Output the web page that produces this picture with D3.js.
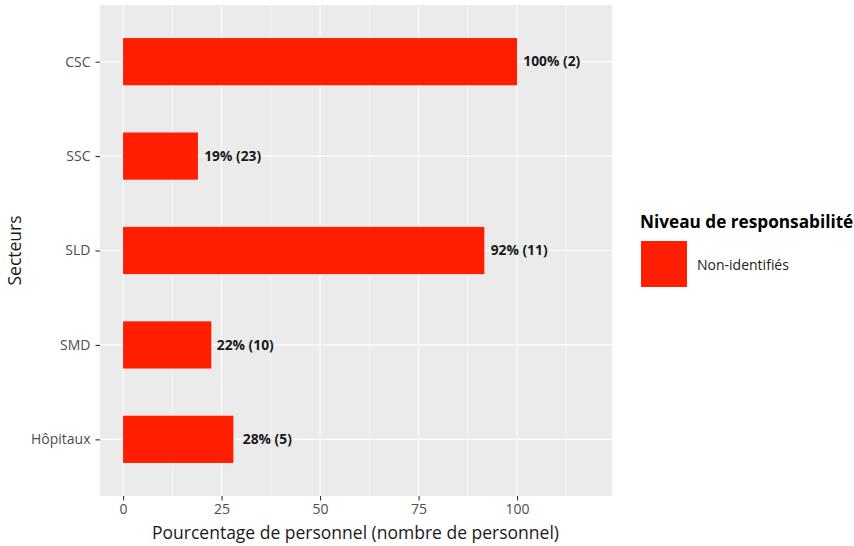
<!DOCTYPE html>
<html><head><meta charset="utf-8">
<script src="https://cdn.jsdelivr.net/npm/d3@7"></script>
<style>body{margin:0;background:#fff;} text{font-family:"Open Sans","Noto Sans",sans-serif;}</style>
</head><body>
<svg id="c" width="854" height="546"></svg>
<script>
const categories = ["CSC","SSC","SLD","SMD","Hôpitaux"];
const values = [100, 19, 91.7, 22.4, 28];
const labels = ["100% (2)","19% (23)","92% (11)","22% (10)","28% (5)"];
const labelAt = [101.6, 20.6, 93.3, 23.8, 30.4];
const xTicks = [0,25,50,75,100];
const xMinor = [12.5,37.5,62.5,87.5,112.5];
const seriesName = "Non-identifiés";
const legendTitle = "Niveau de responsabilité";
const xTitle = "Pourcentage de personnel (nombre de personnel)";
const yTitle = "Secteurs";
const barColor = "#FF1F00";
const FONT = "'Open Sans','Noto Sans',sans-serif";

const svg = d3.select("#c");
const P = {l:100, r:612, t:5, b:496};
const x = d3.scaleLinear().domain([-5.85, 124.1]).range([P.l, P.r]);
const step = (P.b - P.t) / (categories.length - 1 + 1.2);
const yc = c => P.t + step*(0.6 + categories.indexOf(c));

svg.append("rect").attr("x",P.l).attr("y",P.t).attr("width",P.r-P.l).attr("height",P.b-P.t).attr("fill","#EBEBEB");
const g = svg.append("g");
g.selectAll(".minor").data(xMinor).join("line")
  .attr("x1",d=>x(d)).attr("x2",d=>x(d)).attr("y1",P.t).attr("y2",P.b)
  .attr("stroke","#fff").attr("stroke-width",0.55);
g.selectAll(".major").data(xTicks).join("line")
  .attr("x1",d=>x(d)).attr("x2",d=>x(d)).attr("y1",P.t).attr("y2",P.b)
  .attr("stroke","#fff").attr("stroke-width",1.1);
g.selectAll(".hmajor").data(categories).join("line")
  .attr("x1",P.l).attr("x2",P.r).attr("y1",d=>yc(d)).attr("y2",d=>yc(d))
  .attr("stroke","#fff").attr("stroke-width",1.1);

const bh = step*0.5;
svg.selectAll(".bar").data(categories).join("rect")
  .attr("x",x(0)).attr("y",d=>yc(d)-bh/2)
  .attr("width",(d,i)=>x(values[i])-x(0)).attr("height",bh).attr("fill",barColor);

svg.selectAll(".lab").data(categories).join("text")
  .attr("x",(d,i)=>x(labelAt[i])).attr("y",d=>yc(d)).attr("dy","0.35em")
  .attr("font-size",13.8).attr("font-weight","bold").attr("fill","#1a1a1a")
  .text((d,i)=>labels[i]);

// axes
const xa = svg.append("g").attr("transform",`translate(0,${P.b})`)
  .call(d3.axisBottom(x).tickValues(xTicks).tickSize(4.5).tickPadding(4));
const ya = svg.append("g").attr("transform",`translate(${P.l},0)`)
  .call(d3.axisLeft(d3.scalePoint().domain(categories).range([yc(categories[0]), yc(categories[categories.length-1])])).tickSize(4.5).tickPadding(5));
[xa,ya].forEach(a=>{
  a.select(".domain").remove();
  a.selectAll("line").attr("stroke","#333").attr("stroke-width",1.1);
  a.selectAll("text").attr("fill","#4D4D4D").attr("font-size",14).attr("font-family",FONT);
});

svg.append("text").attr("x",(P.l+P.r)/2 - 0.5).attr("y",539).attr("text-anchor","middle")
  .attr("font-size",17.5).attr("fill","#1a1a1a").text(xTitle);
svg.append("text").attr("transform",`translate(21,${(P.t+P.b)/2}) rotate(-90)`).attr("text-anchor","middle")
  .attr("font-size",17.5).attr("fill","#1a1a1a").text(yTitle);

// legend
svg.append("text").attr("x",640).attr("y",228).attr("font-size",17.2).attr("font-weight","bold").attr("fill","#000").text(legendTitle);
svg.append("rect").attr("x",641).attr("y",241).attr("width",46).attr("height",46).attr("fill",barColor);
svg.append("text").attr("x",697).attr("y",265).attr("dy","0.35em").attr("font-size",14).attr("fill","#1a1a1a").text(seriesName);
</script>
</body></html>
